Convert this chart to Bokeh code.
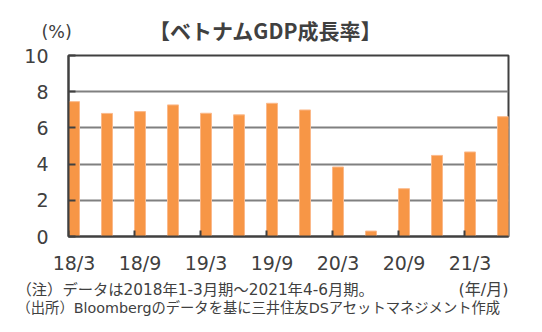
import math
from bokeh.plotting import figure
from bokeh.layouts import column
from bokeh.models import FixedTicker, Label, ColumnDataSource
from bokeh.embed import file_html
from bokeh.resources import INLINE

periods = ["18/3", "18/6", "18/9", "18/12", "19/3", "19/6", "19/9", "19/12",
           "20/3", "20/6", "20/9", "20/12", "21/3", "21/6"]
gdp = [7.45, 6.80, 6.90, 7.27, 6.81, 6.72, 7.36, 6.99, 3.84, 0.30, 2.64, 4.48, 4.67, 6.62]
y_ticks = [0, 2, 4, 6, 8, 10]
title_text = "【ベトナムGDP成長率】"
unit_text = "(%)"
xunit_text = "(年/月)"
note1 = "（注）データは2018年1-3月期～2021年4-6月期。"
note2 = "（出所）Bloombergのデータを基に三井住友DSアセットマネジメント作成"

DARK = "#404040"
MIXED = "DejaVu Sans, Noto Sans CJK JP"
BAR_W = 1 / 3
idx = list(range(len(periods)))
shown = idx[::2]

W = 542
HEAD_H, FOOT_H = 44, 52
MAIN_H = 332 - HEAD_H - FOOT_H
FRAME_TOP, FRAME_BOTTOM = 55, 236  # in whole-page pixels


def blank(height):
    f = figure(width=W, height=height, output_backend="svg", toolbar_location=None,
               x_range=(0, 1), y_range=(0, 1), min_border=0, frame_align=False)
    f.axis.visible = False
    f.grid.visible = False
    f.outline_line_color = None
    f.background_fill_color = "white"
    f.border_fill_color = "white"
    return f


def add_label(f, text, x, y, size, align="left", bold=False, font=MIXED):
    f.add_layout(Label(x=x, y=y, x_units="screen", y_units="screen", text=text,
                       text_font=font, text_font_size=size, text_color=DARK,
                       text_align=align, text_baseline="middle",
                       text_font_style="bold" if bold else "normal"))


# header: page Y -> local y from bottom = HEAD_H - Y
head = blank(HEAD_H)
add_label(head, title_text, 265, HEAD_H - 29, "21px", align="center", bold=True,
          font="Noto Sans CJK JP")
add_label(head, unit_text, 41, HEAD_H - 31, "17.5px", font="DejaVu Sans")

# main chart
p = figure(width=W, height=MAIN_H, output_backend="svg", toolbar_location=None,
           x_range=(-BAR_W / 2, idx[-1] + BAR_W / 2), y_range=(0, 10),
           min_border_left=68, min_border_right=34, min_border_top=FRAME_TOP - HEAD_H,
           min_border_bottom=MAIN_H - (FRAME_BOTTOM - HEAD_H), frame_align=False)
p.background_fill_color = "white"
p.border_fill_color = "white"
p.outline_line_color = DARK
p.outline_line_width = 2

p.xgrid.visible = False
p.ygrid.ticker = FixedTicker(ticks=[2, 4, 6, 8])
p.ygrid.grid_line_color = "#808080"
p.ygrid.grid_line_width = 2

src = ColumnDataSource(dict(x=idx, top=gdp))
p.vbar(x="x", top="top", width=BAR_W, source=src, fill_color="#F79646",
       line_color="#FBB98A", line_width=1)

# inward tick marks on the x axis at the left edge of labelled bars
p.scatter(x=[i - BAR_W / 2 for i in shown], y=[0] * len(shown), marker="dash",
          angle=math.pi / 2, size=12, line_color=DARK, line_width=2)

ya = p.yaxis[0]
ya.ticker = FixedTicker(ticks=y_ticks)
ya.axis_line_color = DARK
ya.axis_line_width = 2
ya.major_tick_in = 7
ya.major_tick_out = 0
ya.major_tick_line_color = DARK
ya.major_tick_line_width = 2
ya.minor_tick_line_color = None
ya.major_label_text_font = "DejaVu Sans"
ya.major_label_text_font_size = "19px"
ya.major_label_text_color = DARK
ya.major_label_standoff = 20

xa = p.xaxis[0]
xa.ticker = FixedTicker(ticks=shown)
xa.major_label_overrides = {i: periods[i] for i in shown}
xa.axis_line_color = DARK
xa.axis_line_width = 2
xa.major_tick_line_color = None
xa.major_tick_in = 0
xa.major_tick_out = 0
xa.minor_tick_line_color = None
xa.major_label_text_font = "DejaVu Sans"
xa.major_label_text_font_size = "19px"
xa.major_label_text_color = DARK
xa.major_label_standoff = 15

# footer: page Y -> local y from bottom = 332 - Y
foot = blank(FOOT_H)
add_label(foot, note1, 16, 332 - 289, "15.3px")
add_label(foot, xunit_text, 508, 332 - 289, "16px", align="right")
add_label(foot, note2, 16, 332 - 307, "14.3px")

layout = column(head, p, foot, spacing=0)
open("out.html", "w").write(file_html(layout, INLINE))
